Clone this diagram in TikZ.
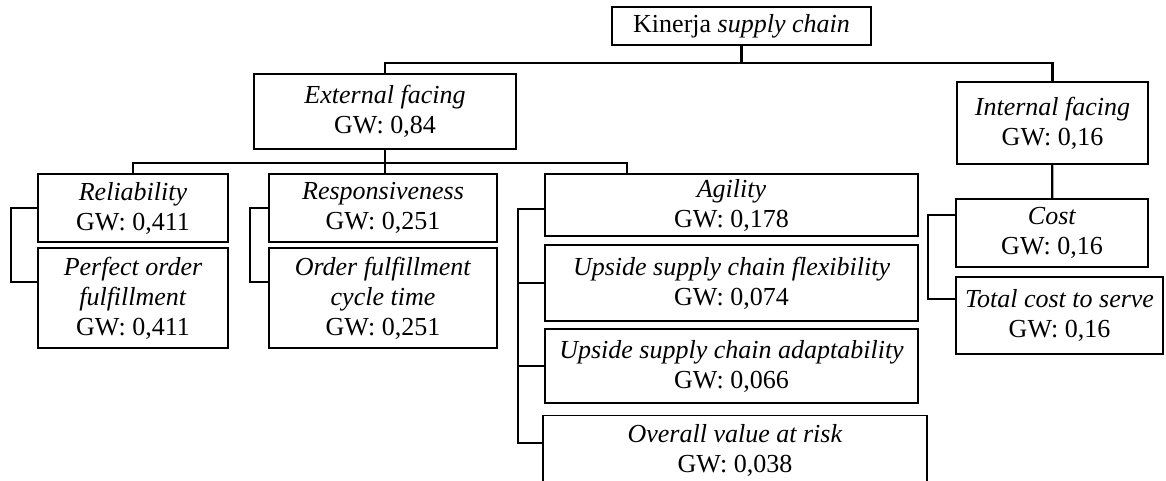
\documentclass[tikz,border=0pt]{standalone}
\usepackage{fontspec}
\setmainfont{Liberation Serif}
\usetikzlibrary{positioning, calc}

\begin{document}
\begin{tikzpicture}[x=1pt, y=-1pt,
  box/.style={rectangle, draw, line width=1.4pt, inner sep=0pt, align=center, font=\fontsize{26}{30}\selectfont},
  link/.style={line width=2.2pt},
]
\useasboundingbox (0,0) rectangle (1166,481);

\node[box, minimum width=259pt, minimum height=38pt] (kinerja) at (741.5,26) {Kinerja \textit{supply chain}};
\node[box, minimum width=262pt, minimum height=75pt] (ext) at (385,111.5) {\textit{External facing}\\GW: 0,84};
\node[box, minimum width=191pt, minimum height=82pt] (int) at (1052.5,123) {\textit{Internal facing}\\GW: 0,16};

\node[box, minimum width=190pt, minimum height=68pt] (rel) at (133,208) {\textit{Reliability}\\GW: 0,411};
\node[box, minimum width=190pt, minimum height=100pt] (perf) at (133,298) {\textit{Perfect order}\\\textit{fulfillment}\\GW: 0,411};
\node[box, minimum width=228pt, minimum height=68pt] (resp) at (383,208) {\textit{Responsiveness}\\GW: 0,251};
\node[box, minimum width=228pt, minimum height=100pt] (ofct) at (383,298) {\textit{Order fulfillment}\\\textit{cycle time}\\GW: 0,251};
\node[box, minimum width=373pt, minimum height=62pt] (agil) at (731.5,205) {\textit{Agility}\\GW: 0,178};
\node[box, minimum width=373pt, minimum height=76pt] (flex) at (731.5,283) {\textit{Upside supply chain flexibility}\\GW: 0,074};
\node[box, minimum width=373pt, minimum height=74pt] (adapt) at (731.5,366) {\textit{Upside supply chain adaptability}\\GW: 0,066};
\node[box, anchor=north, minimum width=384pt, inner ysep=9pt, text depth=45pt] (risk) at (735,415) {\textit{Overall value at risk}\\GW: 0,038};
\node[box, minimum width=192pt, minimum height=68pt] (cost) at (1052,233) {\textit{Cost}\\GW: 0,16};
\node[box, minimum width=207pt, minimum height=77pt] (tcts) at (1059.5,315.5) {\textit{Total cost to serve}\\GW: 0,16};

\coordinate (bar1) at (741.5,63);
\coordinate (bar2) at (385,163);
\coordinate (agtop) at (627,174);
\coordinate (agb) at ([xshift=-26pt, yshift=-4pt]agil.west);

\draw[link] (kinerja) -- (bar1);
\draw[link] (ext) |- (bar1) -| (int);
\draw[link] (int) -- (cost);
\draw[link] (ext) -- (bar2);
\draw[link] (rel) |- (bar2) -| (agtop);
\draw[link] (bar2) -- (bar2 |- resp.north);

\draw[link] (rel.west) -- ++(-26,0) |- ([yshift=16pt]perf.west);
\draw[link] (resp.west) -- ++(-18,0) |- ([yshift=16pt]ofct.west);
\draw[link] ([yshift=-4pt]agil.west) -- (agb) |- ([yshift=-28pt]risk.north west);
\draw[link] (agb |- flex.west) -- (flex.west);
\draw[link] (agb |- adapt.west) -- (adapt.west);
\draw[link] ([yshift=18pt]cost.west) -- ++(-27,0) |- ([yshift=16.5pt]tcts.west);

\end{tikzpicture}
\end{document}
